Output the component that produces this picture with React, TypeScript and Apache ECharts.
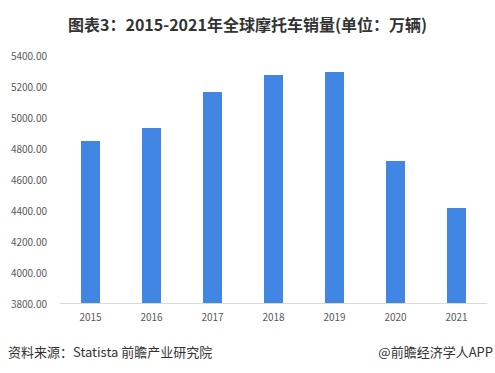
import React, { useEffect, useRef } from "react";
import * as echarts from "echarts";

const categories = ["2015", "2016", "2017", "2018", "2019", "2020", "2021"];
const sales = [4845, 4929, 5161, 5271, 5290, 4716, 4413];
const yMin = 3800;
const yMax = 5400;
const yStep = 200;

export default function App() {
  const ref = useRef<HTMLDivElement>(null);
  useEffect(() => {
    if (!ref.current) return;
    const chart = echarts.init(ref.current, undefined, { renderer: "svg" });
    chart.setOption({
      animation: false,
      backgroundColor: "#ffffff",
      title: {
        text: "图表3：2015-2021年全球摩托车销量(单位：万辆)",
        left: "center",
        top: 11,
        textStyle: {
          fontFamily: "Noto Sans CJK SC",
          fontSize: 16,
          fontWeight: "bold",
          color: "#333333",
        },
      },
      grid: { left: 60, right: 8, top: 55, bottom: 70 },
      xAxis: {
        type: "category",
        data: categories,
        axisLine: { lineStyle: { color: "#d9d9d9" } },
        axisTick: { show: false },
        axisLabel: {
          color: "#595959",
          fontSize: 10,
          fontFamily: "Noto Sans CJK SC",
          margin: 8,
        },
      },
      yAxis: {
        type: "value",
        min: yMin,
        max: yMax,
        interval: yStep,
        splitLine: { show: false },
        axisLine: { show: false },
        axisTick: { show: false },
        axisLabel: {
          color: "#595959",
          fontSize: 10,
          fontFamily: "Noto Sans CJK SC",
          margin: 13,
          formatter: (v: number) => v.toFixed(2),
        },
      },
      series: [
        {
          type: "bar",
          data: sales,
          barWidth: 19,
          itemStyle: { color: "#4186E3" },
        },
      ],
      graphic: [
        {
          type: "text",
          left: 8,
          top: 345,
          style: {
            text: "资料来源：Statista 前瞻产业研究院",
            fontSize: 13,
            fontFamily: "Noto Sans CJK SC",
            fill: "#333333",
          },
        },
        {
          type: "text",
          right: 2,
          top: 345,
          style: {
            text: "@前瞻经济学人APP",
            fontSize: 13,
            fontFamily: "Noto Sans CJK SC",
            fill: "#333333",
          },
        },
      ],
    });
    return () => chart.dispose();
  }, []);
  return (
    <div
      ref={ref}
      style={{ position: "fixed", left: 0, top: 0, width: 495, height: 373 }}
    />
  );
}
